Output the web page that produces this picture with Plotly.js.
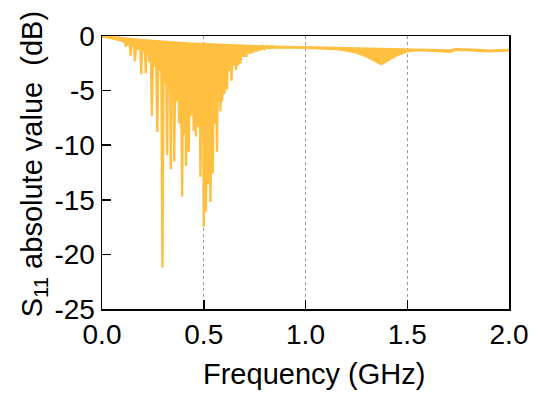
<!DOCTYPE html>
<html>
<head>
<meta charset="utf-8">
<script src="https://cdn.plot.ly/plotly-3.0.1.min.js"></script>
<style>html,body{margin:0;padding:0;background:#fff;}#chart{width:539px;height:396px;}</style>
</head>
<body>
<div id="chart"></div>
<script>
// Resonance region: alternating envelope / dip readings (GHz, dB)
var resFreq = [0.000,0.020,0.030,0.039,0.047,0.055,0.065,0.075,0.083,0.092,0.098,0.104,0.111,0.118,0.124,0.129,0.135,0.141,0.146,0.150,
  0.156,0.162,0.168,0.173,0.177,0.181,0.187,0.193,0.198,0.203,0.209,0.215,0.220,0.225,0.229,0.233,0.239,0.245,0.251,0.257,
  0.265,0.272,0.278,0.284,0.291,0.297,0.303,0.309,0.315,0.320,0.325,0.330,0.334,0.338,0.344,0.350,0.352,0.355,0.361,0.366,
  0.372,0.379,0.387,0.394,0.399,0.403,0.408,0.413,0.420,0.426,0.432,0.438,0.445,0.451,0.456,0.461,0.466,0.471,0.478,0.484,
  0.489,0.493,0.497,0.500,0.506,0.511,0.517,0.523,0.528,0.533,0.539,0.544,0.549,0.554,0.560,0.565,0.570,0.574,0.578,0.582,
  0.586,0.590,0.596,0.601,0.608,0.614,0.620,0.626,0.631,0.636,0.642,0.647,0.653,0.658,0.663,0.668,0.674,0.680,0.688,0.696,
  0.703,0.709,0.716,0.722,0.728,0.733,0.739,0.745,0.753,0.761,0.770,0.778,0.789,0.799,0.812,0.824,0.836,0.848];
var resS11 = [0.00,-0.08,-0.04,-0.12,-0.07,-0.20,-0.10,-0.28,-0.12,-0.42,-0.15,-0.58,-0.17,-1.00,-0.20,-0.85,-0.22,-1.80,-0.24,-1.00,
  -0.26,-2.30,-0.29,-1.30,-0.30,-1.20,-0.32,-3.50,-0.35,-1.40,-0.37,-3.40,-0.38,-1.60,-0.40,-2.40,-0.42,-7.30,-0.43,-2.80,
  -0.45,-8.80,-0.47,-3.20,-0.49,-21.2,-0.50,-4.40,-0.52,-10.9,-0.53,-5.00,-0.54,-12.2,-0.55,-4.50,-0.56,-11.5,-0.57,-6.00,
  -0.59,-8.00,-0.60,-14.7,-0.62,-9.00,-0.63,-11.9,-0.64,-10.6,-0.65,-7.30,-0.67,-8.70,-0.68,-9.20,-0.69,-8.30,-0.70,-12.9,
  -0.71,-9.00,-0.72,-17.5,-0.73,-16.1,-0.74,-13.6,-0.75,-15.2,-0.75,-12.6,-0.76,-8.00,-0.77,-10.6,-0.78,-6.00,-0.78,-6.90,
  -0.79,-6.00,-0.80,-5.30,-0.81,-4.90,-0.82,-3.20,-0.82,-4.10,-0.83,-2.70,-0.84,-3.10,-0.85,-2.70,-0.86,-2.50,-0.86,-1.90,
  -0.87,-1.90,-0.88,-1.60,-0.89,-1.60,-0.89,-1.50,-0.90,-1.40,-0.91,-1.30,-0.92,-1.20,-0.93,-1.12,-0.94,-1.08];

// Solid band: upper and lower edges (GHz, dB)
var bandFreq  = [0.00,0.05,0.10,0.15,0.20,0.25,0.30,0.35,0.40,0.45,0.50,0.55,0.60,0.65,0.70,0.75,0.80,0.85,0.90,0.95,
  1.00,1.05,1.10,1.15,1.20,1.25,1.30,1.33,1.36,1.375,1.39,1.42,1.45,1.50,1.55,1.60,1.65,1.68,1.71,1.74,1.80,1.85,1.90,1.95,2.00];
var bandUpper = [0.00,-0.07,-0.15,-0.25,-0.35,-0.43,-0.50,-0.56,-0.62,-0.67,-0.72,-0.76,-0.80,-0.84,-0.87,-0.90,-0.92,-0.94,-0.96,-0.98,
  -1.00,-1.00,-1.01,-1.02,-1.03,-1.05,-1.07,-1.09,-1.10,-1.11,-1.11,-1.12,-1.13,-1.17,-1.21,-1.23,-1.25,-1.27,-1.28,-1.16,-1.18,-1.24,-1.30,-1.29,-1.24];
var bandLower = [-0.10,-0.25,-0.45,-0.80,-1.30,-2.00,-2.80,-3.50,-4.00,-5.00,-6.00,-4.50,-3.50,-2.30,-1.60,-1.30,-1.15,-1.08,-1.08,-1.10,
  -1.12,-1.14,-1.18,-1.24,-1.35,-1.55,-1.90,-2.20,-2.50,-2.60,-2.45,-2.10,-1.80,-1.45,-1.32,-1.38,-1.42,-1.45,-1.48,-1.30,-1.32,-1.40,-1.45,-1.42,-1.34];

var xTicks = [0, 0.5, 1.0, 1.5, 2.0];
var xTickText = ['0.0', '0.5', '1.0', '1.5', '2.0'];
var yTicks = [-25, -20, -15, -10, -5, 0];
var yTickText = ['-25', '-20', '-15', '-10', '-5', '0'];

var col = '#FFBF40';
var polyX = bandFreq.concat(bandFreq.slice().reverse());
var polyY = bandUpper.concat(bandLower.slice().reverse());

var traces = [
  {x: polyX, y: polyY, type: 'scatter', mode: 'lines', fill: 'toself', fillcolor: col,
   line: {color: col, width: 1.5}, hoverinfo: 'skip', showlegend: false},
  {x: resFreq, y: resS11, type: 'scatter', mode: 'lines',
   line: {color: col, width: 2.4}, showlegend: false}
];

var tickFont = {family: 'Liberation Sans, Arial, sans-serif', size: 28, color: '#000'};
var titleFont = {family: 'Liberation Sans, Arial, sans-serif', size: 29, color: '#000'};
var layout = {
  width: 539, height: 396,
  margin: {l: 102, r: 30, t: 36, b: 87},
  paper_bgcolor: '#fff', plot_bgcolor: '#fff',
  showlegend: false,
  xaxis: {
    range: [0, 2], tickvals: xTicks, ticktext: xTickText,
    ticks: 'inside', ticklen: 9, tickwidth: 1.5, tickcolor: '#000',
    showline: true, linecolor: '#000', linewidth: 1.5, mirror: true,
    showgrid: true, gridcolor: '#999', gridwidth: 1, griddash: 'dot',
    zeroline: false, tickfont: tickFont
  },
  yaxis: {
    range: [-25, 0], tickvals: yTicks, ticktext: yTickText,
    ticks: 'inside', ticklen: 9, tickwidth: 1.5, tickcolor: '#000',
    showline: true, linecolor: '#000', linewidth: 1.5, mirror: true,
    showgrid: false, zeroline: false, tickfont: tickFont
  },
  annotations: [
    {text: 'Frequency (GHz)', xref: 'paper', yref: 'paper', x: 0.521, y: -0.238,
     xanchor: 'center', yanchor: 'middle', showarrow: false, font: titleFont},
    {text: 'S<sub>11</sub> absolute value\u00a0 (dB)', xref: 'paper', yref: 'paper', x: -0.167, y: 0.53,
     xanchor: 'center', yanchor: 'middle', textangle: -90, showarrow: false, font: titleFont}
  ]
};
Plotly.newPlot('chart', traces, layout, {displayModeBar: false, staticPlot: true});
</script>
</body>
</html>
